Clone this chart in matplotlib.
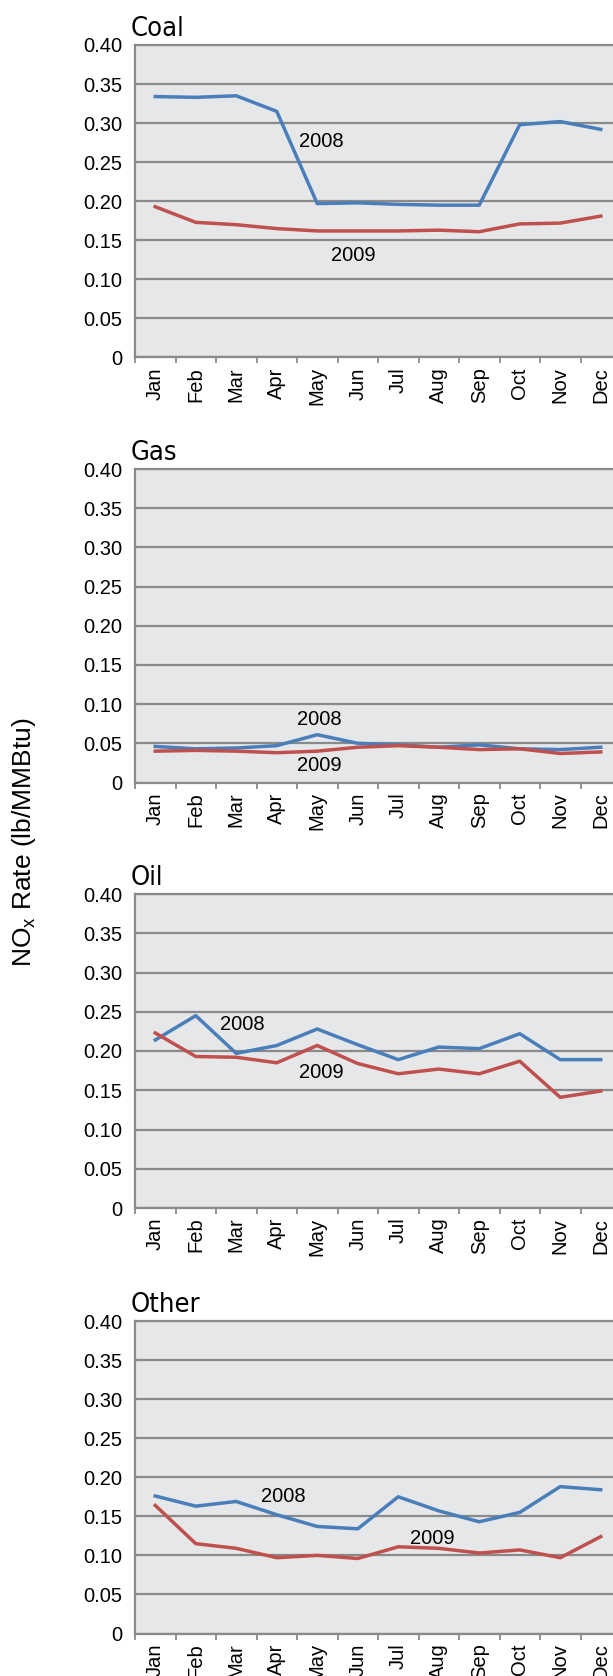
import matplotlib
matplotlib.use("Agg")
import matplotlib.pyplot as plt
import numpy as np

# monthly NOx emission rates (lb/MMBtu)
months = ['Jan', 'Feb', 'Mar', 'Apr', 'May', 'Jun',
          'Jul', 'Aug', 'Sep', 'Oct', 'Nov', 'Dec']
fuels = ['Coal', 'Gas', 'Oil', 'Other']

coal_2008 = [0.334, 0.333, 0.335, 0.315, 0.197, 0.198, 0.196, 0.195, 0.195, 0.298, 0.302, 0.292]
coal_2009 = [0.193, 0.173, 0.170, 0.165, 0.162, 0.162, 0.162, 0.163, 0.161, 0.171, 0.172, 0.181]
gas_2008 = [0.046, 0.043, 0.044, 0.047, 0.061, 0.050, 0.048, 0.045, 0.048, 0.043, 0.042, 0.045]
gas_2009 = [0.040, 0.041, 0.040, 0.038, 0.040, 0.045, 0.047, 0.045, 0.042, 0.043, 0.037, 0.039]
oil_2008 = [0.214, 0.245, 0.197, 0.207, 0.228, 0.208, 0.189, 0.205, 0.203, 0.222, 0.189, 0.189]
oil_2009 = [0.223, 0.193, 0.192, 0.185, 0.207, 0.184, 0.171, 0.177, 0.171, 0.187, 0.141, 0.149]
other_2008 = [0.176, 0.163, 0.169, 0.152, 0.137, 0.134, 0.175, 0.157, 0.143, 0.155, 0.188, 0.184]
other_2009 = [0.164, 0.115, 0.109, 0.097, 0.100, 0.096, 0.111, 0.109, 0.103, 0.107, 0.097, 0.124]

series_2008 = [coal_2008, gas_2008, oil_2008, other_2008]
series_2009 = [coal_2009, gas_2009, oil_2009, other_2009]

# where the "2008" / "2009" labels sit (month index, value)
label_2008 = [(4.1, 0.276), (4.05, 0.081), (2.15, 0.234), (3.15, 0.175)]
label_2009 = [(4.9, 0.131), (4.05, 0.022), (4.1, 0.173), (6.85, 0.122)]

yticks = [0, 0.05, 0.10, 0.15, 0.20, 0.25, 0.30, 0.35, 0.40]
ytick_labels = ['0', '0.05', '0.10', '0.15', '0.20', '0.25', '0.30', '0.35', '0.40']

BLUE = '#4a7ebb'
RED = '#c0504d'
GRID = '#8a8a8a'
BG = '#e6e7e8'
FONT = ['Liberation Sans', 'DejaVu Sans']
TITLE_FONT = ['Liberation Sans Narrow', 'DejaVu Sans']

W, H = 613, 1676
fig = plt.figure(figsize=(W / 100, H / 100), dpi=100)

# panel tops / bottoms in pixels
panel_top = [45, 469, 894, 1321]
panel_bottom = [357.5, 782.5, 1208, 1633.5]
left_px, width_px = 135, 486

x = np.arange(len(months))
for i, fuel in enumerate(fuels):
    b = 1 - panel_bottom[i] / H
    h = (panel_bottom[i] - panel_top[i]) / H
    ax = fig.add_axes([left_px / W, b, width_px / W, h])
    ax.set_facecolor(BG)

    ax.plot(x, series_2008[i], color=BLUE, lw=2.5, solid_joinstyle='round', zorder=3)
    ax.plot(x, series_2009[i], color=RED, lw=2.5, solid_joinstyle='round', zorder=3)

    ax.text(*label_2008[i], '2008', ha='center', va='center', fontsize=14.5, family=FONT)
    ax.text(*label_2009[i], '2009', ha='center', va='center', fontsize=14.5, family=FONT)

    ax.set_xlim(-0.5, 11.5)
    ax.set_ylim(0, 0.40)
    ax.set_yticks(yticks)
    ax.set_yticklabels(ytick_labels, family=FONT, fontsize=14.5)
    ax.set_xticks(x)
    ax.set_xticklabels(months, rotation=90, family=FONT, fontsize=14.5)
    ax.set_xticks(np.arange(-0.5, 12, 1), minor=True)
    ax.tick_params(axis='y', length=0, pad=9)
    ax.tick_params(axis='x', which='major', length=0, pad=7)
    ax.tick_params(axis='x', which='minor', length=4, width=1.3, color=GRID, direction='out')

    ax.grid(axis='y', color=GRID, lw=1.6, zorder=1)
    ax.set_axisbelow(True)
    for s in ax.spines.values():
        s.set_color(GRID)
        s.set_linewidth(1.6)

    ax.text(-0.008, 1 + 9 / (panel_bottom[i] - panel_top[i]), fuel,
            transform=ax.transAxes, ha='left', va='baseline',
            fontsize=19.5, family=TITLE_FONT, fontstretch='condensed')

fig.text(24 / W, 1 - 842 / H, 'NO$_\\mathregular{x}$ Rate (lb/MMBtu)', rotation=90,
         ha='center', va='center', fontsize=19, family=FONT)

fig.savefig('out.png', dpi=100)
plt.close(fig)
